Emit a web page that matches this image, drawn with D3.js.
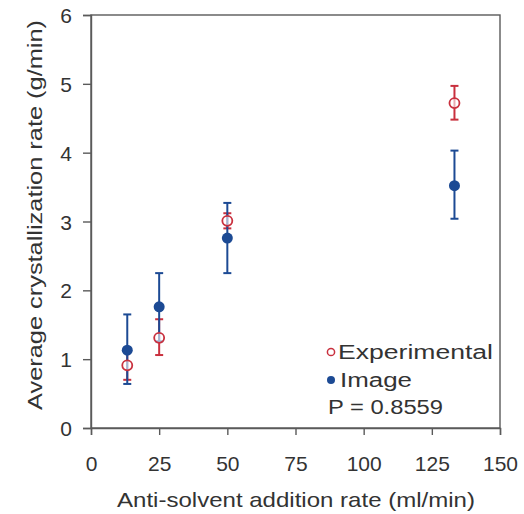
<!DOCTYPE html>
<html><head><meta charset="utf-8">
<script src="https://cdn.jsdelivr.net/npm/d3@7"></script>
<style>body{margin:0;background:#fff}svg{display:block}text{font-family:"Liberation Sans",Arial,sans-serif;fill:#333}</style>
</head><body><svg id="c" width="524" height="514"></svg>
<script>
const xVals = [13.3, 25, 50, 133.3];
const expMean = [0.91, 1.31, 3.01, 4.72];
const expLo = [0.70, 1.06, 2.90, 4.48];
const expHi = [1.12, 1.58, 3.12, 4.97];
const imgMean = [1.13, 1.76, 2.76, 3.52];
const imgLo = [0.64, 1.26, 2.25, 3.04];
const imgHi = [1.65, 2.25, 3.27, 4.03];
const xTicks = [0, 25, 50, 75, 100, 125, 150];
const yTicks = [0, 1, 2, 3, 4, 5, 6];
const legendLabels = ["Experimental", "Image", "P = 0.8559"];

const svg = d3.select("#c");
const L = 91, R = 500, T = 15, B = 428;
const x = d3.scaleLinear().domain([0,150]).range([L,R]);
const y = d3.scaleLinear().domain([0,6]).range([B,T]);
const axisCol = "#5a5a5a";

svg.append("rect").attr("x",L).attr("y",T).attr("width",R-L).attr("height",B-T)
  .attr("fill","none").attr("stroke",axisCol).attr("stroke-width",1.4);

const gx = svg.append("g").attr("transform",`translate(0,${B})`)
  .call(d3.axisBottom(x).tickValues(xTicks).tickSize(7).tickPadding(0));
const gy = svg.append("g").attr("transform",`translate(${L},0)`)
  .call(d3.axisLeft(y).tickValues(yTicks).tickSize(8).tickPadding(11).tickFormat(d3.format("d")));
[gx,gy].forEach(g=>{
  g.select(".domain").attr("stroke",axisCol).attr("stroke-width",1.4);
  g.selectAll(".tick line").attr("stroke",axisCol).attr("stroke-width",1.4);
  g.selectAll(".tick text").attr("font-size",21).attr("font-family","Liberation Sans, Arial, sans-serif").attr("fill","#333");
});
gx.selectAll(".tick text").attr("dy",null).attr("y",43);
gy.selectAll(".tick text").attr("dy","0.36em");

svg.append("text").attr("x",296).attr("y",507).attr("text-anchor","middle")
  .attr("font-size",21).attr("textLength",358).attr("lengthAdjust","spacingAndGlyphs")
  .text("Anti-solvent addition rate (ml/min)");
svg.append("text").attr("transform",`translate(42,215) rotate(-90)`).attr("text-anchor","middle")
  .attr("font-size",21).attr("textLength",390).attr("lengthAdjust","spacingAndGlyphs")
  .text("Average crystallization rate (g/min)");

const red = "#c9303e", blue = "#1c4a94";
function errBars(lo, hi, col){
  const g = svg.append("g").attr("stroke",col).attr("stroke-width",2);
  xVals.forEach((v,i)=>{
    g.append("line").attr("x1",x(v)).attr("x2",x(v)).attr("y1",y(lo[i])).attr("y2",y(hi[i]));
    [lo[i],hi[i]].forEach(e=>g.append("line").attr("x1",x(v)-4).attr("x2",x(v)+4).attr("y1",y(e)).attr("y2",y(e)));
  });
}
errBars(expLo, expHi, red);
errBars(imgLo, imgHi, blue);
svg.append("g").selectAll("circle").data(xVals).join("circle")
  .attr("cx",d=>x(d)).attr("cy",(d,i)=>y(imgMean[i])).attr("r",5.5).attr("fill",blue);
svg.append("g").selectAll("circle").data(xVals).join("circle")
  .attr("cx",d=>x(d)).attr("cy",(d,i)=>y(expMean[i])).attr("r",5).attr("fill","#fff").attr("fill-opacity",0.6)
  .attr("stroke",red).attr("stroke-width",1.8);

// legend
svg.append("circle").attr("cx",331).attr("cy",352).attr("r",3.6).attr("fill","#fff").attr("stroke",red).attr("stroke-width",1.5);
svg.append("circle").attr("cx",331).attr("cy",380).attr("r",4).attr("fill",blue);
const lt = [[338,359,155],[340,387,72],[328,414,115]];
legendLabels.forEach((t,i)=>{
  svg.append("text").attr("x",lt[i][0]).attr("y",lt[i][1]).attr("font-size",20)
    .attr("textLength",lt[i][2]).attr("lengthAdjust","spacingAndGlyphs").text(t);
});
</script></body></html>
